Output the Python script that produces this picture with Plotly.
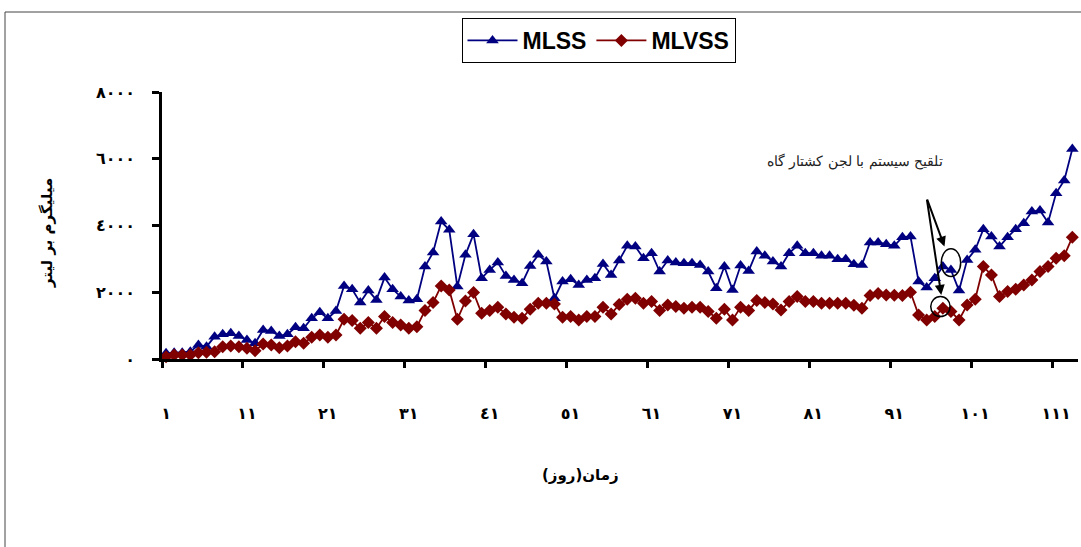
import plotly.graph_objects as go

# days 1..113
days = list(range(1, 114))

mlss = [170, 190, 190, 220, 420, 370, 670, 740, 770, 690,
        570, 470, 870, 840, 690, 740, 950, 920, 1220, 1400,
        1220, 1440, 2190, 2090, 1690, 2050, 1770, 2440,
        2090, 1870, 1750, 1790, 2770, 3190, 4120, 3870, 2170, 3120,
        3740, 2420, 2670, 2890, 2490, 2370, 2270, 2790, 3120, 2920,
        1820, 2320, 2390, 2220, 2370, 2420, 2850, 2520, 2950,
        3390, 3370, 3020, 3170, 2620, 2950, 2890, 2870, 2870, 2820,
        2620, 2120, 2770, 2070, 2800, 2640, 3220, 3090, 2920, 2770,
        3170, 3390, 3170, 3170, 3090, 3090, 2990, 2990,
        2840, 2820, 3490, 3490, 3440, 3390, 3650, 3670, 2320, 2140,
        2420, 2770, 2670, 2050, 2970, 3270, 3890, 3670, 3370, 3650,
        3890, 4070, 4420, 4450, 4090, 4970, 5350, 6290]

mlvss = [70, 120, 120, 120, 190, 200, 220, 370, 390, 370,
         320, 250, 450, 420, 340, 390, 520, 470, 650, 720,
         650, 720, 1190, 1150, 920, 1090, 920, 1270,
         1090, 1020, 920, 970, 1450, 1690, 2190, 2070, 1190, 1740,
         1990, 1370, 1450, 1550, 1350, 1250, 1220, 1490, 1670, 1670,
         1650, 1250, 1270, 1170, 1270, 1270, 1550, 1350, 1630,
         1790, 1820, 1670, 1720, 1450, 1620, 1570, 1520, 1550, 1550,
         1420, 1220, 1490, 1170, 1550, 1450, 1750, 1690, 1650, 1470,
         1720, 1870, 1720, 1720, 1670, 1670, 1670, 1670,
         1610, 1520, 1900, 1960, 1920, 1910, 1900, 2000, 1320, 1170,
         1270, 1520, 1420, 1170, 1620, 1790, 2770, 2520, 1870, 2020,
         2090, 2220, 2370, 2620, 2770, 3020, 3090, 3650]

x_tick_vals = [0.5 + 10 * i for i in range(12)]
x_tick_text = ["١", "١١", "٢١", "٣١", "٤١", "٥١", "٦١", "٧١", "٨١", "٩١", "١٠١", "١١١"]
y_tick_vals = [0, 2000, 4000, 6000, 8000]
y_tick_text = ["٠", "٢٠٠٠", "٤٠٠٠", "٦٠٠٠", "٨٠٠٠"]

fig = go.Figure()
fig.add_trace(go.Scatter(
    x=days, y=mlss, name="MLSS", mode="lines+markers",
    line=dict(color="#000080", width=1.8),
    marker=dict(symbol="triangle-up", size=11, color="#000080"),
    cliponaxis=False))
fig.add_trace(go.Scatter(
    x=days, y=mlvss, name="MLVSS", mode="lines+markers",
    line=dict(color="#800000", width=1.8),
    marker=dict(symbol="diamond", size=10, color="#800000"),
    cliponaxis=False))

tick_font = dict(family="DejaVu Sans", size=16, color="black", weight="bold")

fig.update_xaxes(
    range=[0.5, 113.7], tickmode="array", tickvals=x_tick_vals, ticktext=x_tick_text,
    showline=True, linecolor="black", linewidth=2.5,
    ticks="outside", ticklen=6, tickwidth=2.5, tickcolor="black",
    ticklabelshift=4, ticklabelstandoff=32,
    showgrid=False, zeroline=False, tickfont=tick_font)
fig.update_yaxes(
    range=[0, 8000], tickmode="array", tickvals=y_tick_vals, ticktext=y_tick_text,
    showline=True, linecolor="black", linewidth=2.5,
    ticks="outside", ticklen=7, tickwidth=2.5, tickcolor="black",
    ticklabelstandoff=14,
    showgrid=False, zeroline=False, tickfont=tick_font)

title_font = dict(family="DejaVu Sans", size=15, color="black", weight="bold")
fig.add_annotation(x=(580 - 162) / 916, y=(359 - 475) / 267, xref="paper", yref="paper",
                   xanchor="center", yanchor="middle",
                   text="زمان(روز)", showarrow=False, font=title_font)
fig.add_annotation(x=(47 - 162) / 916, y=(359 - 233) / 267, xref="paper", yref="paper",
                   xanchor="center", yanchor="middle",
                   text="میلیگرم بر لیتر", showarrow=False, textangle=-90, font=title_font)

# note with arrows and circles
fig.add_annotation(x=86.2, y=5910, text="تلقیح سیستم با لجن کشتار گاه", showarrow=False,
                   font=dict(family="DejaVu Serif, serif", size=14, color="#222"))
for hx, hy in [(97.2, 3370), (96.8, 1920)]:
    fig.add_annotation(x=hx, y=hy, ax=95.0, ay=4820, axref="x", ayref="y", text="",
                       showarrow=True, arrowhead=2, arrowsize=1, arrowwidth=2, arrowcolor="black")
fig.add_shape(type="circle", x0=96.8, x1=99.2, y0=2470, y1=3300, line=dict(color="black", width=1.5))
fig.add_shape(type="circle", x0=95.5, x1=97.9, y0=1270, y1=1870, line=dict(color="black", width=1.5))

# outer frame lines
fig.add_shape(type="line", xref="paper", yref="paper", x0=(5 - 162) / 916, x1=(1081 - 162) / 916,
              y0=(359 - 12) / 267, y1=(359 - 12) / 267, line=dict(color="#444", width=1))
fig.add_shape(type="line", xref="paper", yref="paper", x0=(5 - 162) / 916, x1=(5 - 162) / 916,
              y0=(359 - 12) / 267, y1=(359 - 547) / 267, line=dict(color="#444", width=1))

fig.update_layout(
    width=1081, height=547,
    margin=dict(l=162, r=3, t=92, b=188),
    plot_bgcolor="white", paper_bgcolor="white",
    legend=dict(orientation="h", x=(598.5 - 162) / 916, xanchor="center",
                y=(359 - 18) / 267, yanchor="top", itemwidth=50,
                bordercolor="black", borderwidth=1, bgcolor="white",
                font=dict(family="Arial", size=23, color="black", weight="bold")),
)

fig.write_html("out.html", config={"displayModeBar": False},
               post_script="document.body.style.margin='0px';")
